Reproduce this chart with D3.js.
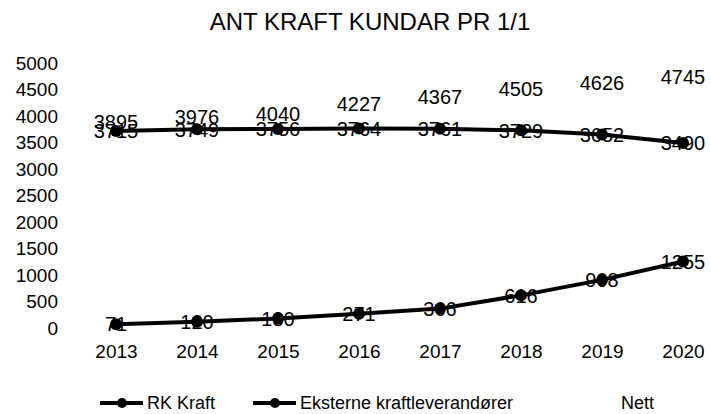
<!DOCTYPE html>
<html>
<head>
<meta charset="utf-8">
<script src="https://cdn.jsdelivr.net/npm/d3@7"></script>
<style>
  body { margin: 0; background: #fff; }
  svg { display: block; font-family: "Liberation Sans", Arial, sans-serif; }
</style>
</head>
<body>
<div id="chart"></div>
<script>
const years = ["2013", "2014", "2015", "2016", "2017", "2018", "2019", "2020"];
const rkKraft = [3715, 3749, 3756, 3764, 3761, 3729, 3652, 3490];
const eksterne = [71, 120, 180, 271, 366, 616, 908, 1255];
const nett = [3895, 3976, 4040, 4227, 4367, 4505, 4626, 4745];
const yTicks = [0, 500, 1000, 1500, 2000, 2500, 3000, 3500, 4000, 4500, 5000];

const width = 711, height = 414;

const svg = d3.select("#chart").append("svg")
    .attr("width", width)
    .attr("height", height);

svg.append("text")
    .attr("x", 370)
    .attr("y", 30)
    .attr("text-anchor", "middle")
    .style("font-size", "24px")
    .text("ANT KRAFT KUNDAR PR 1/1");

const x = d3.scalePoint().domain(years).range([116, 683]);
const y = d3.scaleLinear().domain([0, 5000]).range([328, 63]);

// y axis, labels only
const yAxis = svg.append("g")
    .attr("transform", "translate(58,0)")
    .call(d3.axisLeft(y).tickValues(yTicks).tickFormat(d3.format("d")).tickSize(0).tickPadding(0));
yAxis.select(".domain").remove();
yAxis.selectAll("text")
    .style("font-size", "19px")
    .style("font-family", "Liberation Sans, Arial, sans-serif")
    .attr("fill", "#000");

// x axis, labels only
const xAxis = svg.append("g")
    .attr("transform", "translate(0,344)")
    .call(d3.axisBottom(x).tickSize(0).tickPadding(0));
xAxis.select(".domain").remove();
xAxis.selectAll("text")
    .style("font-size", "19px")
    .style("font-family", "Liberation Sans, Arial, sans-serif")
    .attr("fill", "#000");

const line = d3.line()
    .x((d, i) => x(years[i]))
    .y(d => y(d));

function drawSeries(values) {
    svg.append("path")
        .datum(values)
        .attr("d", line)
        .attr("fill", "none")
        .attr("stroke", "#000")
        .attr("stroke-width", 4)
        .attr("stroke-linejoin", "round");
    svg.append("g").selectAll("circle")
        .data(values)
        .join("circle")
        .attr("cx", (d, i) => x(years[i]))
        .attr("cy", d => y(d))
        .attr("r", 6)
        .attr("fill", "#000");
}

function drawLabels(values) {
    svg.append("g").selectAll("text")
        .data(values)
        .join("text")
        .attr("x", (d, i) => x(years[i]))
        .attr("y", d => y(d))
        .attr("dy", "0.36em")
        .attr("text-anchor", "middle")
        .style("font-size", "20px")
        .text(d => d);
}

drawSeries(rkKraft);
drawSeries(eksterne);
drawLabels(rkKraft);
drawLabels(eksterne);
drawLabels(nett);

// legend
const legendItems = [
    {name: "RK Kraft", x: 100, marker: true},
    {name: "Eksterne kraftleverandører", x: 253, marker: true},
    {name: "Nett", x: 574, marker: false}
];
const legend = svg.append("g").attr("transform", "translate(0,403)");
legendItems.forEach(item => {
    if (item.marker) {
        legend.append("line")
            .attr("x1", item.x).attr("x2", item.x + 43)
            .attr("y1", 0).attr("y2", 0)
            .attr("stroke", "#000")
            .attr("stroke-width", 4);
        legend.append("circle")
            .attr("cx", item.x + 22).attr("cy", 0)
            .attr("r", 5)
            .attr("fill", "#000");
    }
    legend.append("text")
        .attr("x", item.x + 47)
        .attr("y", 0)
        .attr("dy", "0.36em")
        .style("font-size", "18px")
        .text(item.name);
});
</script>
</body>
</html>
